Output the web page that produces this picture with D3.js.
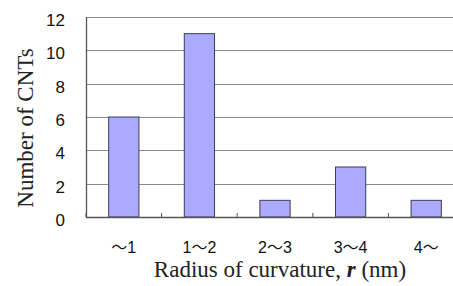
<!DOCTYPE html>
<html>
<head>
<meta charset="utf-8">
<script src="https://cdn.jsdelivr.net/npm/d3@7"></script>
<style>
  body { margin: 0; background: #fff; }
  svg { display: block; }
</style>
</head>
<body>
<div id="canvas"></div>
<script>
// radius bins and counts
const bins = ["～1", "1～2", "2～3", "3～4", "4～"];
const counts = [6, 11, 1, 3, 1];
const yTicks = [0, 2, 4, 6, 8, 10, 12];

const width = 453;
const height = 286;
const marginLeft = 86;
const plotRight = 464;   // plot runs past the right edge, cropped like the original
const marginTop = 17;
const plotBottom = 217;

const x = d3.scaleBand()
    .domain(bins)
    .range([marginLeft, plotRight])
    .paddingInner(0.6)
    .paddingOuter(0.3);

const y = d3.scaleLinear()
    .domain([0, 12])
    .range([plotBottom, marginTop]);

const svg = d3.select("#canvas")
    .append("svg")
    .attr("width", width)
    .attr("height", height)
    .attr("viewBox", [0, 0, width, height]);

// gridlines
svg.append("g")
    .selectAll("line")
    .data(yTicks.filter(d => d > 0))
    .join("line")
        .attr("x1", marginLeft)
        .attr("x2", plotRight)
        .attr("y1", d => Math.round(y(d)) + 0.5)
        .attr("y2", d => Math.round(y(d)) + 0.5)
        .attr("stroke", "#8a8a8a")
        .attr("stroke-width", 1.2);

// bars
svg.append("g")
    .selectAll("rect")
    .data(counts)
    .join("rect")
        .attr("x", (d, i) => x(bins[i]))
        .attr("y", d => y(d))
        .attr("width", x.bandwidth())
        .attr("height", d => y(0) - y(d))
        .attr("fill", "#aaaaff")
        .attr("stroke", "#3c3c5a")
        .attr("stroke-width", 1);

// y axis
svg.append("g")
    .attr("transform", `translate(${marginLeft},0)`)
    .call(d3.axisLeft(y).tickValues(yTicks).tickSize(0).tickPadding(21))
    .call(g => g.select(".domain").attr("stroke", "#555").attr("stroke-width", 1.3))
    .call(g => g.selectAll("text")
        .attr("dy", "0.5em")
        .attr("font-family", "'Liberation Sans', Arial, sans-serif")
        .attr("font-size", 17)
        .attr("fill", "#111"));

// x axis: ticks between the bins, pointing up into the plot
const step = x.step();
const boundaries = d3.range(bins.length + 1).map(i => marginLeft + i * step);
svg.append("line")
    .attr("x1", marginLeft).attr("x2", plotRight)
    .attr("y1", plotBottom + 0.5).attr("y2", plotBottom + 0.5)
    .attr("stroke", "#555").attr("stroke-width", 1.3);
svg.append("g")
    .selectAll("line")
    .data(boundaries)
    .join("line")
        .attr("x1", d => d).attr("x2", d => d)
        .attr("y1", plotBottom).attr("y2", plotBottom - 4)
        .attr("stroke", "#555");

svg.append("g")
    .selectAll("text")
    .data(bins)
    .join("text")
        .attr("x", d => x(d) + x.bandwidth() / 2)
        .attr("y", 253)
        .attr("text-anchor", "middle")
        .attr("font-family", "'Liberation Sans', 'Noto Sans CJK JP', sans-serif")
        .attr("font-size", 16)
        .attr("fill", "#111")
        .text(d => d);

// axis titles
const xt = svg.append("text")
    .attr("x", 280)
    .attr("y", 277)
    .attr("text-anchor", "middle")
    .attr("font-family", "'Liberation Serif', 'Times New Roman', serif")
    .attr("font-size", 23)
    .attr("fill", "#222");
xt.append("tspan").text("Radius of curvature, ");
xt.append("tspan").attr("font-weight", "bold").attr("font-style", "italic").text("r");
xt.append("tspan").text(" (nm)");

svg.append("text")
    .attr("transform", "translate(33,128) rotate(-90)")
    .attr("text-anchor", "middle")
    .attr("font-family", "'Liberation Serif', 'Times New Roman', serif")
    .attr("font-size", 23)
    .attr("fill", "#222")
    .text("Number of CNTs");
</script>
</body>
</html>
